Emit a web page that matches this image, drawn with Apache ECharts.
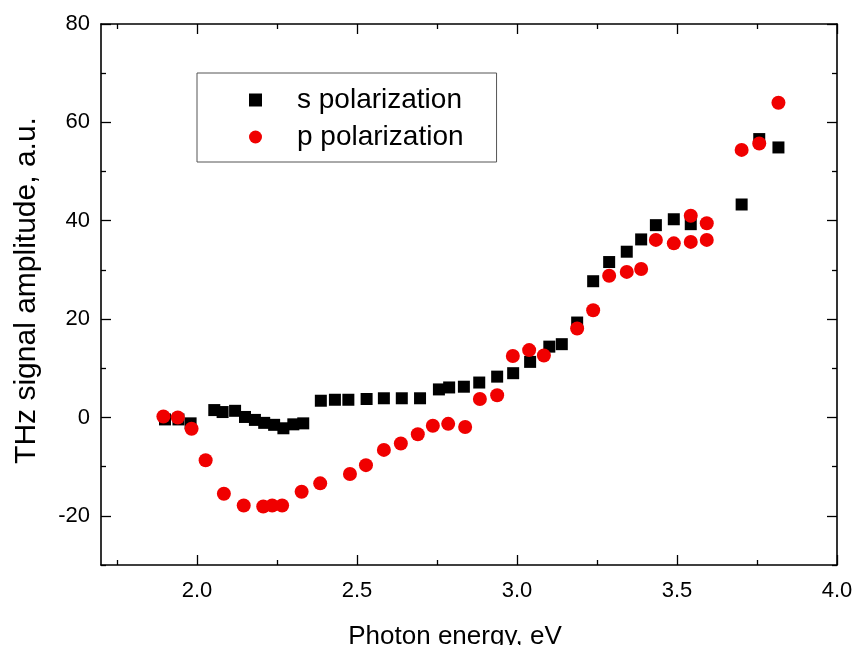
<!DOCTYPE html>
<html>
<head>
<meta charset="utf-8">
<script src="https://cdn.jsdelivr.net/npm/echarts@6/dist/echarts.min.js"></script>
<style>
html,body{margin:0;padding:0;background:#fff;}
#chart{width:867px;height:645px;}
</style>
</head>
<body>
<div id="chart"></div>
<script>
// ---- data ----
const sEnergy = [1.900,1.942,1.980,2.054,2.080,2.119,2.150,2.181,2.210,2.241,2.270,2.301,2.332,2.387,2.431,2.473,2.530,2.584,2.640,2.697,2.756,2.788,2.834,2.882,2.938,2.988,3.041,3.101,3.140,3.188,3.238,3.288,3.343,3.388,3.434,3.490,3.543,3.702,3.757,3.817];
const sAmp    = [-0.4,-0.4,-1.2,1.5,1.1,1.35,0.1,-0.5,-1.1,-1.5,-2.2,-1.4,-1.2,3.4,3.6,3.6,3.75,3.9,3.9,3.9,5.7,6.1,6.25,7.1,8.3,9.0,11.3,14.4,14.9,19.3,27.7,31.6,33.7,36.2,39.1,40.3,39.3,43.3,56.6,54.9];
const pEnergy = [1.895,1.940,1.983,2.027,2.084,2.146,2.207,2.235,2.266,2.327,2.385,2.478,2.528,2.584,2.637,2.690,2.737,2.785,2.838,2.884,2.938,2.987,3.038,3.084,3.188,3.238,3.288,3.343,3.388,3.434,3.490,3.543,3.543,3.593,3.593,3.702,3.757,3.817];
const pAmp    = [0.2,0.0,-2.3,-8.7,-15.5,-17.9,-18.1,-17.9,-17.9,-15.1,-13.4,-11.5,-9.7,-6.6,-5.3,-3.4,-1.7,-1.3,-1.95,3.75,4.5,12.5,13.7,12.6,18.1,21.8,28.8,29.6,30.2,36.1,35.4,41.0,35.7,39.5,36.1,54.4,55.7,64.0];
const xMajorTicks = [2.0,2.5,3.0,3.5,4.0];
const xMinorTicks = [1.75,2.25,2.75,3.25,3.75];
const yMajorTicks = [-20,0,20,40,60,80];
const yMinorTicks = [-30,-10,10,30,50,70];
const seriesNames = ['s polarization','p polarization'];
const xTitle = 'Photon energy, eV';
const yTitle = 'THz signal amplitude, a.u.';

const FONT = '"Liberation Sans", Arial, sans-serif';
const line = {show:true, onZero:false, lineStyle:{color:'#000', width:1.6}};
const noLine = {show:false, onZero:false};

function xAxisDef(pos, ticks, len, labels, showLine){
  return {
    type:'value', position:pos, min:1.7, max:4.0,
    axisLine: showLine ? line : noLine,
    splitLine:{show:false},
    axisTick:{show:true, inside:true, length:len, customValues:ticks, lineStyle:{color:'#000', width:1.3}},
    axisLabel: labels ? {show:true, customValues:ticks, color:'#000', fontSize:22, fontFamily:FONT, margin:15,
      formatter:v=>v.toFixed(1)} : {show:false},
    name: labels ? xTitle : '', nameLocation:'middle', nameGap:59,
    nameTextStyle:{color:'#000', fontSize:26, fontFamily:FONT, padding:[0,28,0,0]}
  };
}
function yAxisDef(pos, ticks, len, labels, showLine){
  return {
    type:'value', position:pos, min:-30, max:80,
    axisLine: showLine ? line : noLine,
    splitLine:{show:false},
    axisTick:{show:true, inside:true, length:len, customValues:ticks, lineStyle:{color:'#000', width:1.3}},
    axisLabel: labels ? {show:true, customValues:ticks, color:'#000', fontSize:22, fontFamily:FONT, margin:11} : {show:false},
    name: labels ? yTitle : '', nameLocation:'middle', nameGap:59, nameRotate:90,
    nameTextStyle:{color:'#000', fontSize:30, fontFamily:FONT, padding:[0,0,0,8]}
  };
}

const chart = echarts.init(document.getElementById('chart'), null, {renderer:'canvas'});
chart.setOption({
  animation:false,
  backgroundColor:'#fff',
  grid:{left:101, right:30, top:24, bottom:80, containLabel:false, outerBoundsMode:'none'},
  xAxis:[
    xAxisDef('bottom', xMajorTicks, 10, true, true),
    xAxisDef('bottom', xMinorTicks, 5, false, false),
    xAxisDef('top', xMajorTicks, 10, false, true),
    xAxisDef('top', xMinorTicks, 5, false, false)
  ],
  yAxis:[
    yAxisDef('left', yMajorTicks, 10, true, true),
    yAxisDef('left', yMinorTicks, 5, false, false),
    yAxisDef('right', yMajorTicks, 10, false, true),
    yAxisDef('right', yMinorTicks, 5, false, false)
  ],
  legend:{
    orient:'vertical', left:197, top:73,
    padding:[13,33,11,52], itemGap:9, itemWidth:13, itemHeight:13,
    borderColor:'#555', borderWidth:1, backgroundColor:'#fff',
    textStyle:{color:'#000', fontSize:28, fontFamily:FONT, padding:[0,0,0,30]},
    data:[{name:seriesNames[0], icon:'rect'},{name:seriesNames[1], icon:'circle'}]
  },
  series:[
    {name:seriesNames[0], type:'scatter', symbol:'rect', symbolSize:12,
     itemStyle:{color:'#000', opacity:1}, data:sEnergy.map((x,i)=>[x,sAmp[i]]), z:2},
    {name:seriesNames[1], type:'scatter', symbol:'circle', symbolSize:14,
     itemStyle:{color:'#f00000', opacity:1}, data:pEnergy.map((x,i)=>[x,pAmp[i]]), z:3}
  ]
});
</script>
</body>
</html>
